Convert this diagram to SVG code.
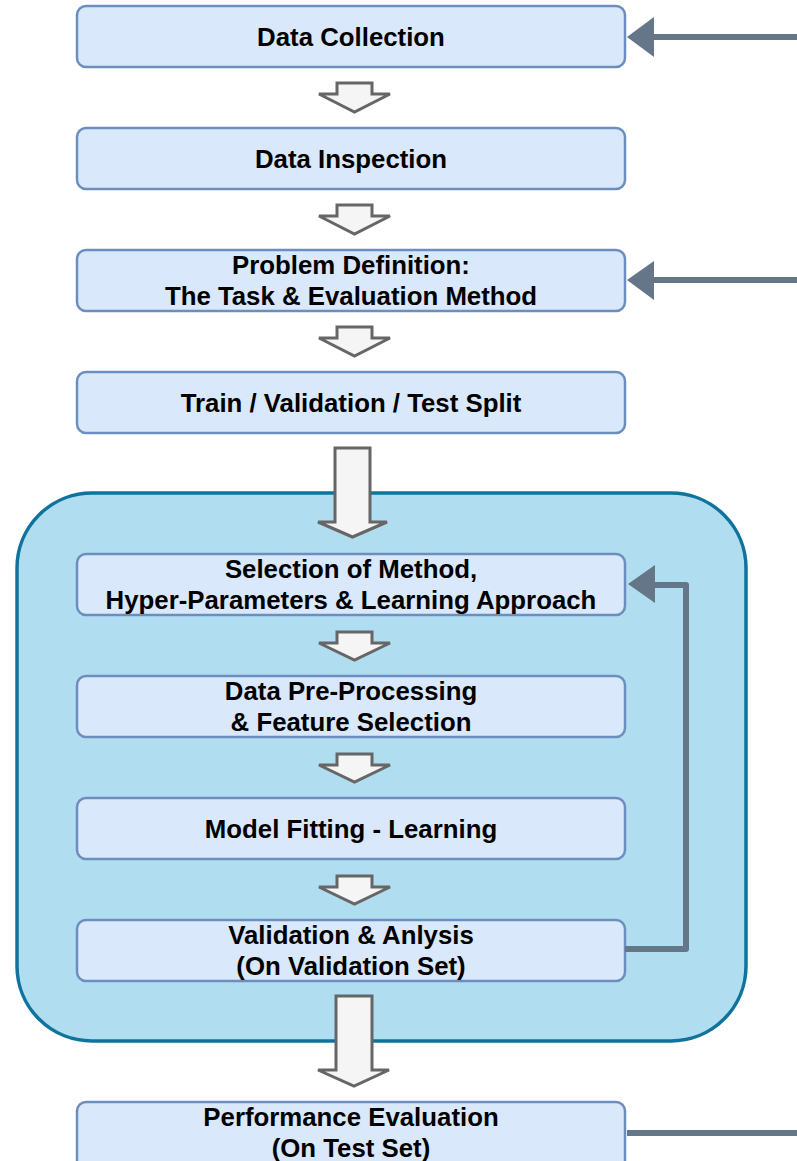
<svg xmlns="http://www.w3.org/2000/svg" width="797" height="1161" viewBox="0 0 797 1161">
<style>
.box{fill:#dae8fc;stroke:#6c8ebf;stroke-width:2.5}
.t{font-family:"Liberation Sans",Arial,sans-serif;font-weight:bold;font-size:25.8px;fill:#000;text-anchor:middle}
.blk{fill:#f5f5f5;stroke:#666666;stroke-width:3;stroke-linejoin:miter}
.con{fill:none;stroke:#647687;stroke-width:6}
.head{fill:#647687;stroke:none}
</style>
<rect width="797" height="1161" fill="#ffffff"/>
<g id="container">
<rect x="17" y="493" width="729" height="548" rx="75" ry="75" fill="#b1ddf0" stroke="#10739e" stroke-width="3.5"/>
</g>
<g id="n1"><rect class="box" x="77" y="6" width="548" height="61" rx="9"/><text class="t" x="351" y="46">Data Collection</text></g>
<g id="n2"><rect class="box" x="77" y="128" width="548" height="61" rx="9"/><text class="t" x="351" y="168">Data Inspection</text></g>
<g id="n3"><rect class="box" x="77" y="250" width="548" height="61" rx="9"/><text class="t" x="351" y="274">Problem Definition:</text><text class="t" x="351" y="305">The Task &amp; Evaluation Method</text></g>
<g id="n4"><rect class="box" x="77" y="372" width="548" height="61" rx="9"/><text class="t" x="351" y="412">Train / Validation / Test Split</text></g>
<g id="n5"><rect class="box" x="77" y="554" width="548" height="61" rx="9"/><text class="t" x="351" y="578">Selection of Method,</text><text class="t" x="351" y="609">Hyper-Parameters &amp; Learning Approach</text></g>
<g id="n6"><rect class="box" x="77" y="676" width="548" height="61" rx="9"/><text class="t" x="351" y="700">Data Pre-Processing</text><text class="t" x="351" y="731">&amp; Feature Selection</text></g>
<g id="n7"><rect class="box" x="77" y="798" width="548" height="61" rx="9"/><text class="t" x="351" y="838">Model Fitting - Learning</text></g>
<g id="n8"><rect class="box" x="77" y="920" width="548" height="61" rx="9"/><text class="t" x="351" y="944">Validation &amp; Anlysis</text><text class="t" x="351" y="975">(On Validation Set)</text></g>
<g id="n9"><rect class="box" x="77" y="1102" width="548" height="70" rx="9"/><text class="t" x="351" y="1126">Performance Evaluation</text><text class="t" x="351" y="1157">(On Test Set)</text></g>
<g id="connectors">
<polygon class="blk" points="337,83 372,83 372,94 390,94 354.5,112 319,94 337,94"/>
<polygon class="blk" points="337,205 372,205 372,216 390,216 354.5,234 319,216 337,216"/>
<polygon class="blk" points="337,327 372,327 372,338 390,338 354.5,356 319,338 337,338"/>
<polygon class="blk" points="335,448 370,448 370,522 387,522 352.5,537 318,522 335,522"/>
<polygon class="blk" points="337,632 372,632 372,643 390,643 354.5,660 319,643 337,643"/>
<polygon class="blk" points="337,754 372,754 372,765 390,765 354.5,782 319,765 337,765"/>
<polygon class="blk" points="337,876 372,876 372,887 390,887 354.5,904 319,887 337,887"/>
<polygon class="blk" points="336,996 372,996 372,1070 389,1070 354,1086 318,1070 336,1070"/>
<line class="con" x1="797" y1="37" x2="650" y2="37"/>
<polygon class="head" points="627,37 654,17 654,57"/>
<line class="con" x1="797" y1="280" x2="650" y2="280"/>
<polygon class="head" points="627,280 654,261 654,300"/>
<path class="con" d="M625,949 L686,949 L686,585 L650,585" stroke-linejoin="round"/>
<polygon class="head" points="628,584 655,565 655,603"/>
<line class="con" x1="627" y1="1133" x2="797" y2="1133"/>
</g>
</svg>
